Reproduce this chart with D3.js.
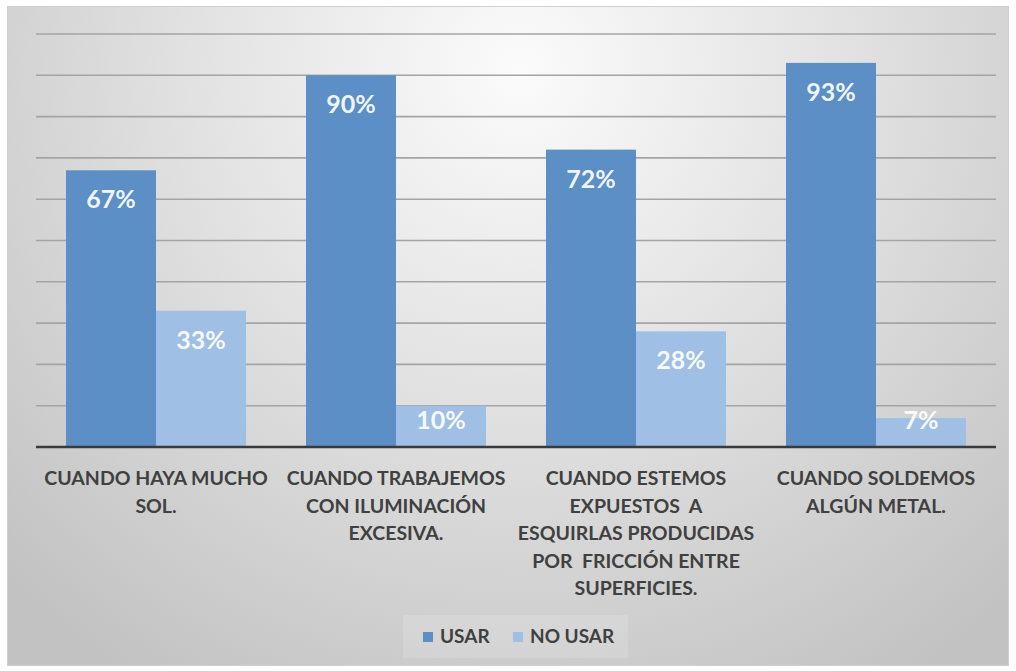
<!DOCTYPE html>
<html>
<head>
<meta charset="utf-8">
<script src="https://cdn.jsdelivr.net/npm/d3@7"></script>
<style>
  html, body { margin: 0; padding: 0; background: #ffffff; }
  svg { display: block; }
</style>
</head>
<body>
<svg id="chart" width="1016" height="671"></svg>
<script>
// Categories (each label split into its printed lines)
const categories = [
  ["CUANDO HAYA MUCHO", "SOL."],
  ["CUANDO TRABAJEMOS", "CON ILUMINACIÓN", "EXCESIVA."],
  ["CUANDO ESTEMOS", "EXPUESTOS  A", "ESQUIRLAS PRODUCIDAS", "POR  FRICCIÓN ENTRE", "SUPERFICIES."],
  ["CUANDO SOLDEMOS", "ALGÚN METAL."]
];
const seriesNames = ["USAR", "NO USAR"];
const usarValues = [67, 90, 72, 93];
const noUsarValues = [33, 10, 28, 7];
const gridTicks = [10, 20, 30, 40, 50, 60, 70, 80, 90, 100];

const seriesValues = [usarValues, noUsarValues];
const colors = ["#5b8fc5", "#a0bfe4"];
const FONT = "Lato, 'Open Sans', sans-serif";

const svg = d3.select("#chart");
const defs = svg.append("defs");

// Soft radial background for the chart area
const grad = defs.append("radialGradient")
  .attr("id", "bg")
  .attr("gradientUnits", "userSpaceOnUse")
  .attr("cx", 520).attr("cy", 70).attr("r", 720);
grad.append("stop").attr("offset", "0").attr("stop-color", "#fbfbfb");
grad.append("stop").attr("offset", "0.45").attr("stop-color", "#e2e2e2");
grad.append("stop").attr("offset", "1").attr("stop-color", "#c2c2c2");

svg.append("rect")
  .attr("x", 7.5).attr("y", 6.5)
  .attr("width", 1001).attr("height", 659)
  .attr("fill", "url(#bg)")
  .attr("stroke", "#cfcfcf")
  .attr("stroke-width", 1);

const plot = { left: 36, right: 996, top: 34, bottom: 447 };

const x0 = d3.scaleBand()
  .domain(d3.range(categories.length))
  .range([plot.left, plot.right])
  .paddingInner(0).paddingOuter(0);

const x1 = d3.scaleBand()
  .domain(d3.range(seriesNames.length))
  .range([0, x0.bandwidth()])
  .paddingInner(0).paddingOuter(1 / 3);

const y = d3.scaleLinear().domain([0, 100]).range([plot.bottom, plot.top]);

// Horizontal gridlines
svg.append("g")
  .selectAll("line")
  .data(gridTicks)
  .join("line")
  .attr("x1", plot.left).attr("x2", plot.right)
  .attr("y1", d => y(d)).attr("y2", d => y(d))
  .attr("stroke", "#a4a4a4")
  .attr("stroke-width", 1.6);

// Bars
const groups = svg.append("g")
  .selectAll("g")
  .data(categories.map((c, i) => i))
  .join("g")
  .attr("transform", i => `translate(${x0(i)},0)`);

const cells = groups.selectAll("g.cell")
  .data(i => seriesValues.map((vals, s) => ({ s, v: vals[i] })))
  .join("g").attr("class", "cell");

cells.append("rect")
  .attr("x", d => x1(d.s))
  .attr("width", x1.bandwidth())
  .attr("y", d => y(d.v))
  .attr("height", d => y(0) - y(d.v))
  .attr("fill", d => colors[d.s]);

// Value labels, inside the end of each bar
cells.append("text")
  .attr("x", d => x1(d.s) + x1.bandwidth() / 2)
  .attr("y", d => Math.min(y(d.v) + 29, y(0) - 27))
  .attr("dy", "0.36em")
  .attr("text-anchor", "middle")
  .attr("font-family", FONT)
  .attr("font-weight", 700)
  .attr("font-size", 25)
  .attr("fill", "#ffffff")
  .attr("fill-opacity", 0.93)
  .text(d => d.v + "%");

// Category axis line
svg.append("line")
  .attr("x1", plot.left).attr("x2", plot.right)
  .attr("y1", y(0)).attr("y2", y(0))
  .attr("stroke", "#3a3a3a")
  .attr("stroke-width", 2.5);

// Category labels
const catLabels = svg.append("g")
  .selectAll("text")
  .data(categories)
  .join("text")
  .attr("x", (d, i) => x0(i) + x0.bandwidth() / 2)
  .attr("y", 485)
  .attr("text-anchor", "middle")
  .attr("font-family", FONT)
  .attr("font-weight", 700)
  .attr("font-size", 19.5)
  .attr("fill", "#404040")
  .attr("xml:space", "preserve");

catLabels.selectAll("tspan")
  .data(d => d)
  .join("tspan")
  .attr("x", function () { return d3.select(this.parentNode).attr("x"); })
  .attr("dy", (d, j) => j === 0 ? 0 : 27.5)
  .text(d => d);

// Legend
const legend = svg.append("g");
legend.append("rect")
  .attr("x", 403).attr("y", 615)
  .attr("width", 225).attr("height", 43)
  .attr("fill", "#ffffff").attr("fill-opacity", 0.15);

const legendX = [423, 513];
const items = legend.selectAll("g.item")
  .data(seriesNames)
  .join("g").attr("class", "item")
  .attr("transform", (d, i) => `translate(${legendX[i]},0)`);
items.append("rect")
  .attr("x", 0).attr("y", 632)
  .attr("width", 10).attr("height", 10)
  .attr("fill", (d, i) => colors[i]);
items.append("text")
  .attr("x", 17).attr("y", 643)
  .attr("font-family", FONT)
  .attr("font-weight", 700)
  .attr("font-size", 19)
  .attr("fill", "#404040")
  .text(d => d);
</script>
</body>
</html>
